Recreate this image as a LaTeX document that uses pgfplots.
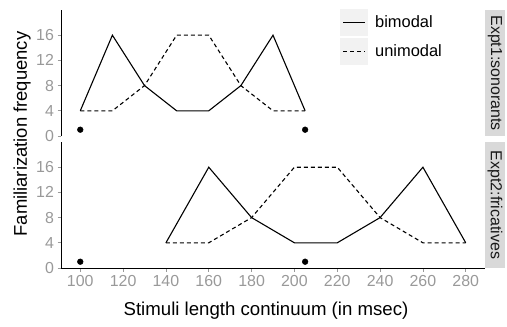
\documentclass[border=0pt]{standalone}
\usepackage{pgfplots}
\pgfplotsset{compat=1.18}
\usepackage{fontspec}
\setmainfont{Liberation Sans}
\definecolor{tickgrey}{HTML}{999999}
\definecolor{stripgrey}{HTML}{D9D9D9}
\definecolor{keygrey}{HTML}{F2F2F2}
\pgfplotsset{panel/.style={
  width=424bp, height=126bp, scale only axis, anchor=south west,
  xmin=91, xmax=289, ymin=0, ymax=20,
  axis y line*=left,
  axis line style={-, line width=0.7bp, black},
  ytick={0,4,8,12,16}, xtick={100,120,...,280},
  tick align=outside, major tick length=3.5bp,
  tick style={tickgrey, line width=0.7bp},
  ticklabel style={font=\fontsize{16}{16}\selectfont, text=tickgrey},
  /pgf/number format/assume math mode=true,
  /pgf/number format/1000 sep={},
  solidl/.style={black, line width=1.1bp},
  dashl/.style={black, line width=1.1bp, dash pattern=on 4bp off 3bp},
  pts/.style={only marks, mark=*, mark size=2.9bp, black},
}}
\begin{document}
\begin{tikzpicture}[x=1bp,y=1bp]
\useasboundingbox (0,0) rectangle (507,326);
% top panel
\begin{axis}[panel, at={(61bp,190bp)}, axis x line=none]
\addplot[solidl] coordinates {(100,4)(115,16)(130,8)(145,4)(160,4)(175,8)(190,16)(205,4)};
\addplot[dashl] coordinates {(100,4)(115,4)(130,8)(145,16)(160,16)(175,8)(190,4)(205,4)};
\addplot[pts] coordinates {(100,1)(205,1)};
\end{axis}
% bottom panel
\begin{axis}[panel, at={(61bp,58bp)}, axis x line*=bottom]
\addplot[solidl] coordinates {(140,4)(160,16)(180,8)(200,4)(220,4)(240,8)(260,16)(280,4)};
\addplot[dashl] coordinates {(140,4)(160,4)(180,8)(200,16)(220,16)(240,8)(260,4)(280,4)};
\addplot[pts] coordinates {(100,1)(205,1)};
\end{axis}
% strips
\fill[stripgrey] (485,190) rectangle (505,316);
\node[rotate=-90, font=\fontsize{16}{16}\selectfont, text={black!90}] at (495,253) {Expt1:sonorants};
\fill[stripgrey] (485,58) rectangle (505,184);
\node[rotate=-90, font=\fontsize{16}{16}\selectfont, text={black!90}] at (495,121) {Expt2:fricatives};
% legend
\fill[keygrey] (340,290) rectangle (368,317);
\fill[keygrey] (340,261) rectangle (368,288);
\draw[black, line width=1.1bp] (343,303.5) -- (365,303.5);
\draw[black, line width=1.1bp, dash pattern=on 4bp off 3bp] (343,274.5) -- (365,274.5);
\node[anchor=west, inner sep=0pt, font=\fontsize{16.5}{16.5}\selectfont] at (375,304) {bimodal};
\node[anchor=west, inner sep=0pt, font=\fontsize{16.5}{16.5}\selectfont] at (375,275) {unimodal};
% axis titles
\node[rotate=90, font=\fontsize{18.5}{18.5}\selectfont] at (22,192) {Familiarization frequency};
\node[font=\fontsize{18.7}{18.7}\selectfont] at (266,15) {Stimuli length continuum (in msec)};
\end{tikzpicture}
\end{document}
